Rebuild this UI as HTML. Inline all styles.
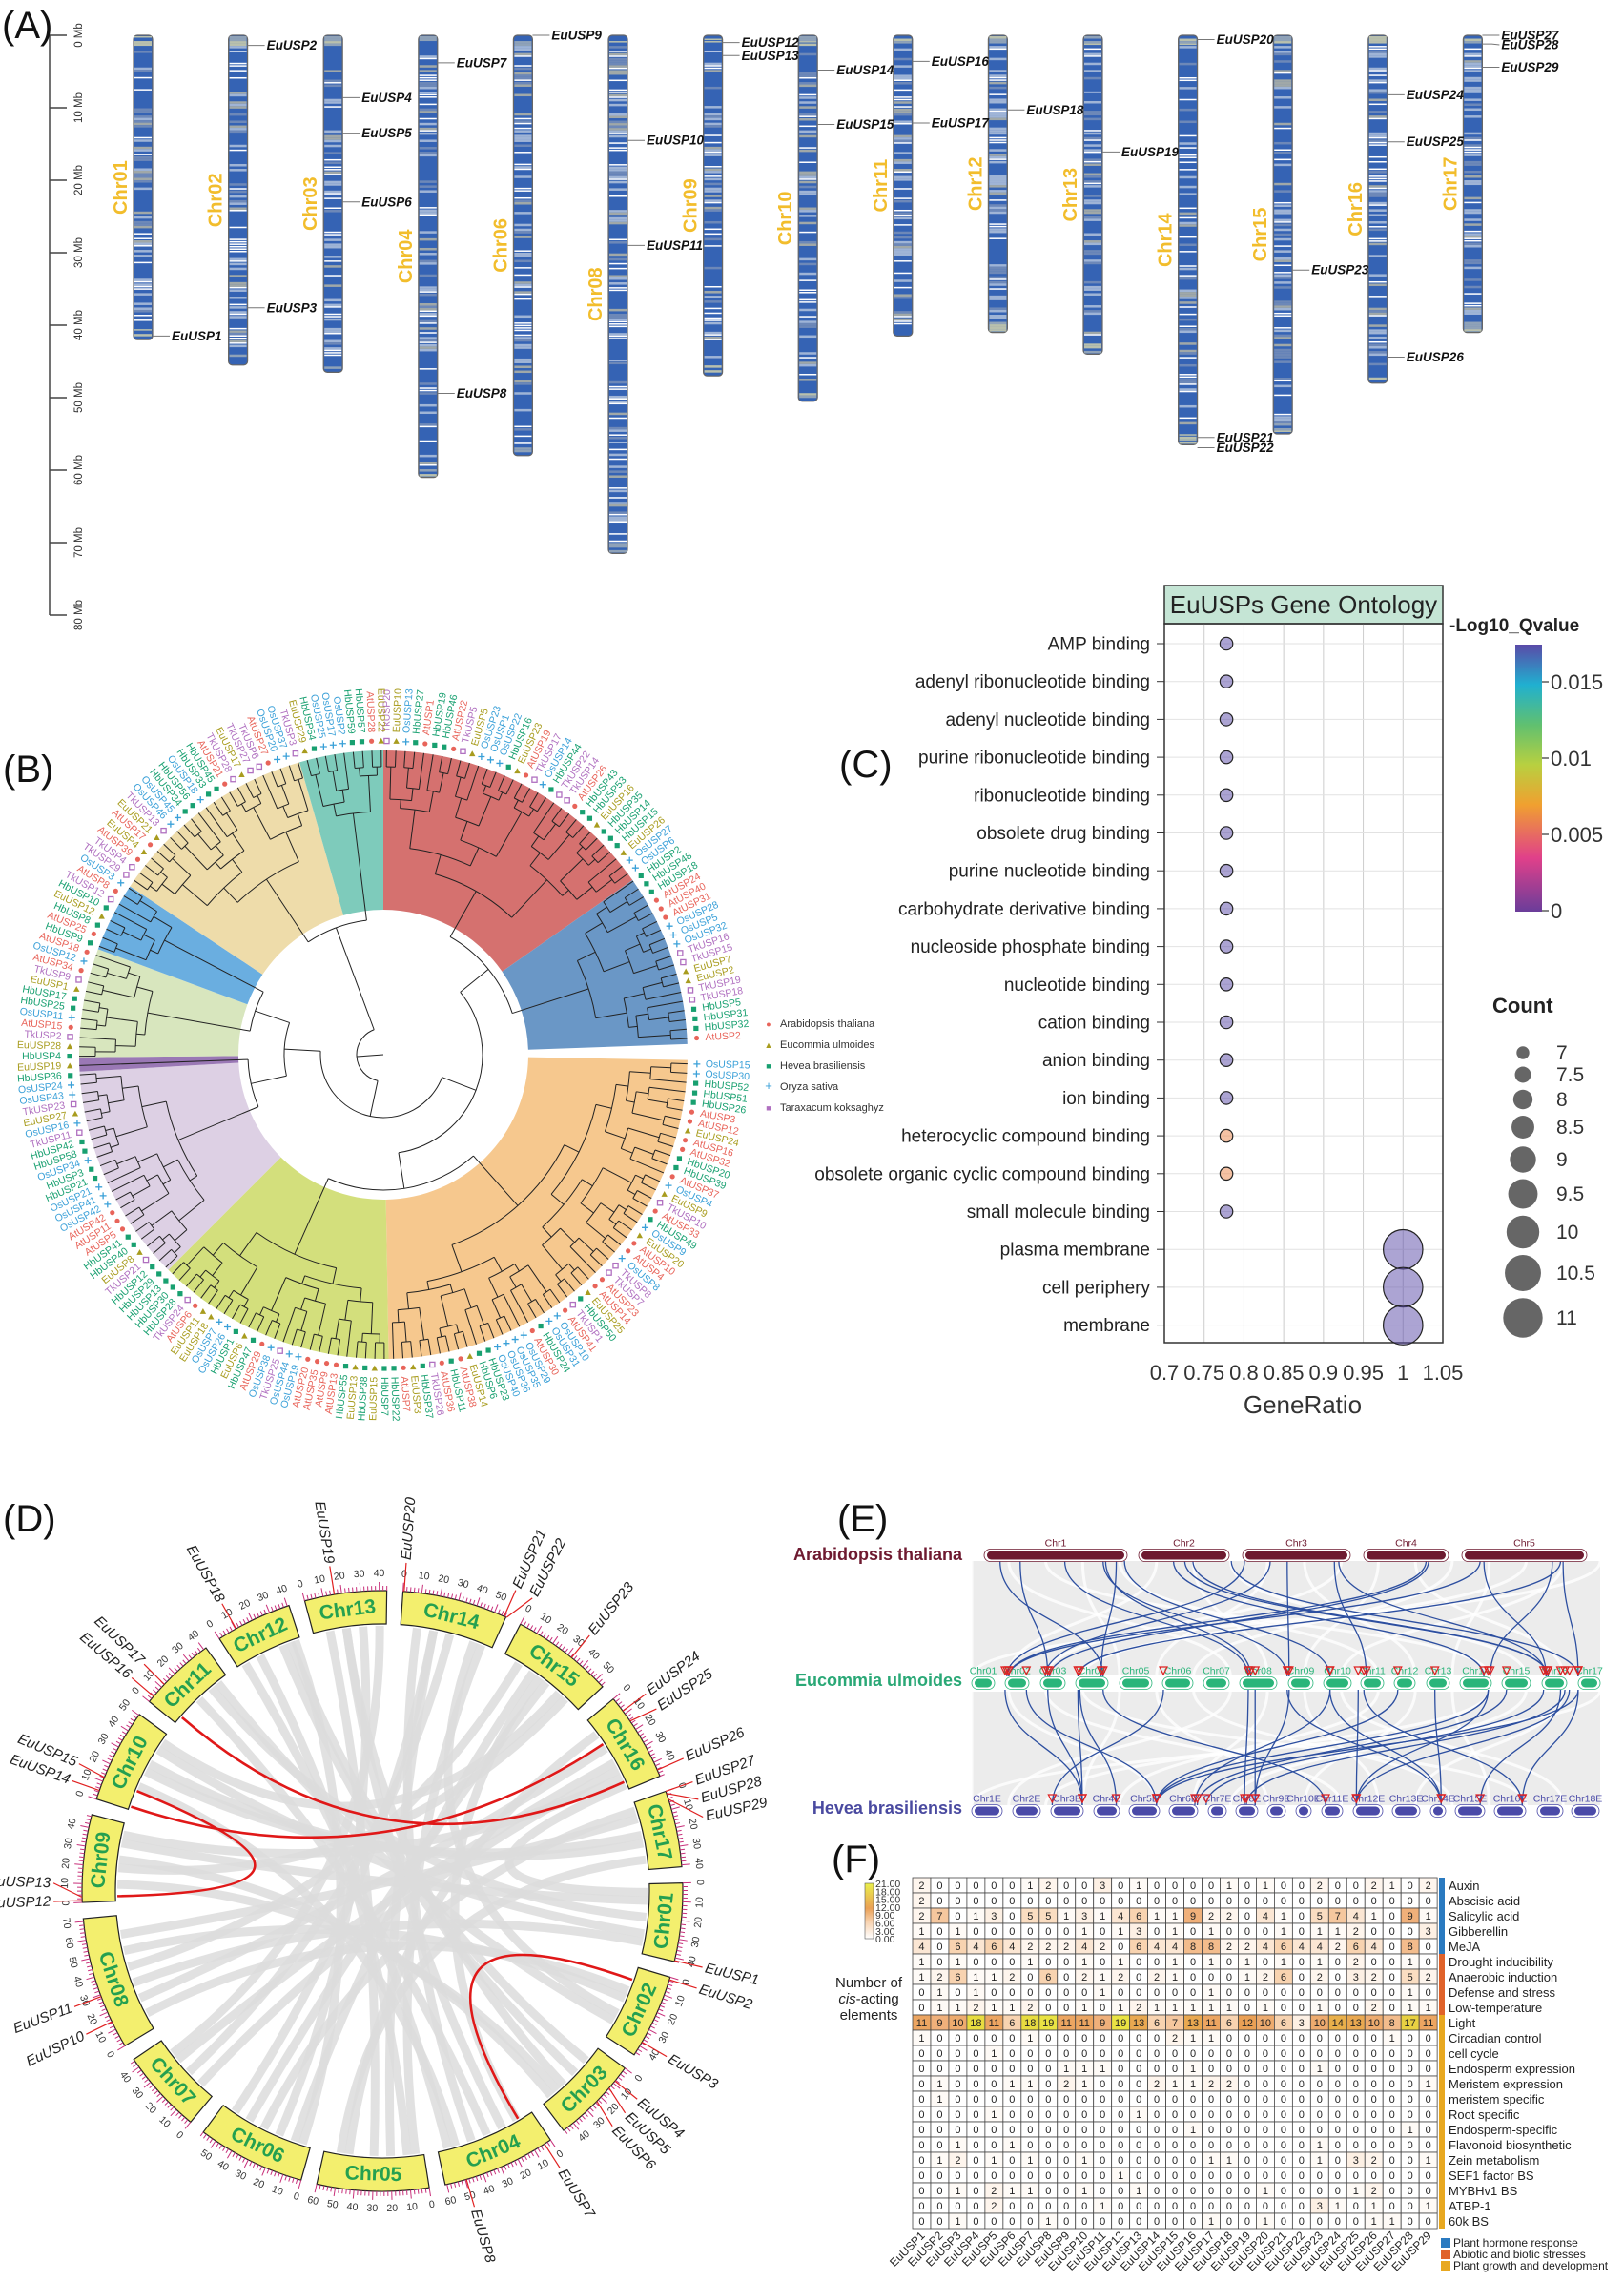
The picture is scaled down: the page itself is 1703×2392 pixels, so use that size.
<!DOCTYPE html>
<html><head><meta charset="utf-8">
<style>
body{margin:0;background:#fff}
svg text{font-family:"Liberation Sans",Arial,sans-serif}
</style></head>
<body>
<svg id="fig" xmlns="http://www.w3.org/2000/svg" width="1703" height="2387" viewBox="0 0 1703 2387">
<defs>
<linearGradient id="qgrad" x1="0" y1="1" x2="0" y2="0">
<stop offset="0" stop-color="#6a3d9a"/><stop offset="0.2" stop-color="#e0408a"/><stop offset="0.4" stop-color="#f0a030"/><stop offset="0.55" stop-color="#b8d040"/><stop offset="0.7" stop-color="#60c070"/><stop offset="0.85" stop-color="#20b0d0"/><stop offset="1" stop-color="#5a4aa8"/>
</linearGradient>
<linearGradient id="hgrad" x1="0" y1="1" x2="0" y2="0">
<stop offset="0" stop-color="#ffffff"/><stop offset="0.3" stop-color="#f8d3b0"/><stop offset="0.55" stop-color="#eaa055"/><stop offset="1" stop-color="#eaf04a"/>
</linearGradient>
</defs>
<g id="pA"></g>
<g id="pB"></g>
<g id="pC"></g>
<g id="pD"></g>
<g id="pE"></g>
<g id="pF"></g>
</svg>
<script>
// ---------------- DATA ----------------
const chrNamesA = ['Chr01','Chr02','Chr03','Chr04','Chr06','Chr08','Chr09','Chr10','Chr11','Chr12','Chr13','Chr14','Chr15','Chr16','Chr17'];
const chrLenA = [42,45.5,46.5,61,58,71.5,47,50.5,41.5,41,44,56.5,55,48,41];
const axisTicksA = [0,10,20,30,40,50,60,70,80];
const geneNames = ['EuUSP1','EuUSP2','EuUSP3','EuUSP4','EuUSP5','EuUSP6','EuUSP7','EuUSP8','EuUSP9','EuUSP10','EuUSP11','EuUSP12','EuUSP13','EuUSP14','EuUSP15','EuUSP16','EuUSP17','EuUSP18','EuUSP19','EuUSP20','EuUSP21','EuUSP22','EuUSP23','EuUSP24','EuUSP25','EuUSP26','EuUSP27','EuUSP28','EuUSP29'];
const geneChr = ['Chr01','Chr02','Chr02','Chr03','Chr03','Chr03','Chr04','Chr04','Chr06','Chr08','Chr08','Chr09','Chr09','Chr10','Chr10','Chr11','Chr11','Chr12','Chr13','Chr14','Chr14','Chr14','Chr15','Chr16','Chr16','Chr16','Chr17','Chr17','Chr17'];
const genePos = [41.5,1.4,37.6,8.6,13.5,23,3.8,49.4,0,14.5,29,1,2.8,4.8,12.3,3.6,12.1,10.3,16.1,0.6,55.5,56.9,32.4,8.2,14.7,44.4,0,1.2,4.4];

const goTerms = ['AMP binding','adenyl ribonucleotide binding','adenyl nucleotide binding','purine ribonucleotide binding','ribonucleotide binding','obsolete drug binding','purine nucleotide binding','carbohydrate derivative binding','nucleoside phosphate binding','nucleotide binding','cation binding','anion binding','ion binding','heterocyclic compound binding','obsolete organic cyclic compound binding','small molecule binding','plasma membrane','cell periphery','membrane'];
const goRatio = [0.778,0.778,0.778,0.778,0.778,0.778,0.778,0.778,0.778,0.778,0.778,0.778,0.778,0.778,0.778,0.778,1,1,1];
const goCount = [7,7,7,7,7,7,7,7,7,7,7,7,7,7,7,7,11,11,11];
const goQ = [0.0175,0.0175,0.0175,0.0175,0.0175,0.0175,0.0175,0.0175,0.0175,0.0175,0.0175,0.0175,0.0175,0.006,0.006,0.0175,0.0175,0.0175,0.0175];
const goXTicks = [0.7,0.75,0.8,0.85,0.9,0.95,1,1.05];
const goXTickLabels = ['0.7','0.75','0.8','0.85','0.9','0.95','1','1.05'];
const qTicks = [0,0.005,0.01,0.015];
const qTickLabels = ['0','0.005','0.01','0.015'];
const countLegend = [7,7.5,8,8.5,9,9.5,10,10.5,11];

const treeLabels = ('TkUSP20 EuUSP10 OsUSP13 HbUSP27 AtUSP1 HbUSP19 HbUSP46 AtUSP22 TkUSP5 EuUSP5 OsUSP23 OsUSP1 OsUSP22 HbUSP16 EuUSP23 AtUSP19 TkUSP17 OsUSP14 HbUSP44 TkUSP22 TkUSP14 AtUSP26 HbUSP43 HbUSP53 EuUSP16 HbUSP35 HbUSP14 HbUSP15 EuUSP26 OsUSP27 OsUSP6 HbUSP2 HbUSP48 HbUSP18 AtUSP24 AtUSP40 AtUSP31 OsUSP28 OsUSP5 OsUSP32 TkUSP16 TkUSP15 EuUSP7 EuUSP2 TkUSP19 TkUSP18 HbUSP5 HbUSP31 HbUSP32 AtUSP2 '+
'OsUSP15 OsUSP30 HbUSP52 HbUSP51 HbUSP26 AtUSP3 AtUSP12 EuUSP24 AtUSP16 AtUSP32 HbUSP20 HbUSP39 AtUSP37 OsUSP4 EuUSP9 TkUSP10 AtUSP33 HbUSP49 OsUSP9 EuUSP20 AtUSP10 AtUSP4 OsUSP8 TkUSP8 TkUSP7 AtUSP23 AtUSP14 EuUSP25 HbUSP50 TkUSP1 AtUSP41 OsUSP10 OsUSP31 HbUSP24 AtUSP30 OsUSP29 OsUSP35 OsUSP36 OsUSP40 HbUSP23 HbUSP6 EuUSP14 AtUSP38 HbUSP11 AtUSP36 TkUSP26 HbUSP37 EuUSP3 AtUSP7 '+
'HbUSP22 HbUSP7 EuUSP15 HbUSP38 EuUSP13 HbUSP55 AtUSP13 AtUSP9 AtUSP35 AtUSP20 OsUSP19 OsUSP44 TkUSP25 OsUSP38 AtUSP29 HbUSP47 EuUSP6 HbUSP1 OsUSP26 OsUSP7 EuUSP18 EuUSP11 AtUSP6 TkUSP24 HbUSP28 HbUSP30 HbUSP13 HbUSP29 HbUSP12 TkUSP21 EuUSP8 '+
'HbUSP40 HbUSP41 AtUSP5 AtUSP11 AtUSP42 OsUSP42 OsUSP41 OsUSP21 HbUSP21 HbUSP3 OsUSP34 HbUSP58 HbUSP42 TkUSP11 OsUSP16 EuUSP27 TkUSP23 OsUSP43 OsUSP24 HbUSP36 EuUSP19 HbUSP4 EuUSP28 TkUSP2 AtUSP15 OsUSP11 HbUSP25 HbUSP17 EuUSP1 TkUSP9 AtUSP34 OsUSP12 AtUSP18 HbUSP9 AtUSP25 HbUSP8 EuUSP12 HbUSP10 TkUSP12 AtUSP8 OsUSP3 TkUSP29 TkUSP4 AtUSP39 EuUSP4 AtUSP17 EuUSP21 TkUSP13 OsUSP46 OsUSP45 HbUSP34 HbUSP56 OsUSP18 HbUSP33 HbUSP45 AtUSP21 TkUSP28 EuUSP17 TkUSP27 TkUSP6 AtUSP27 OsUSP20 OsUSP37 TkUSP3 EuUSP29 HbUSP54 OsUSP25 OsUSP17 OsUSP2 HbUSP59 HbUSP57 AtUSP28 EuUSP22').split(' ');
const cladeStart = [0,55,91,179,225,266.8,269.5,290.3,303.6,344];
const cladeEnd = [55,88,179,225,266.8,269.5,290.3,303.6,344,360];
const cladeColor = ['#d5716f','#6a97c6','#f6c88e','#d3df7c','#ddd0e4','#9a78b5','#d8e6be','#6aaee0','#eedcaa','#7ecbbb'];
const speciesNames = ['Arabidopsis thaliana','Eucommia ulmoides','Hevea brasiliensis','Oryza sativa','Taraxacum koksaghyz'];
const speciesPrefix = ['At','Eu','Hb','Os','Tk'];
const speciesColor = ['#e8645a','#a89c1e','#18a070','#3aa0d8','#b070c0'];

const chrNamesD = ['Chr01','Chr02','Chr03','Chr04','Chr05','Chr06','Chr07','Chr08','Chr09','Chr10','Chr11','Chr12','Chr13','Chr14','Chr15','Chr16','Chr17'];
const chrLenD = [42,45.5,46.5,61,60,58,45,71.5,47,50.5,41.5,41,44,56.5,55,48,41];
const chrOrderD = ['Chr13','Chr14','Chr15','Chr16','Chr17','Chr01','Chr02','Chr03','Chr04','Chr05','Chr06','Chr07','Chr08','Chr09','Chr10','Chr11','Chr12'];
const dupLinksFrom = [['Chr11',5],['Chr10',2],['Chr10',12],['Chr02',8]];
const dupLinksTo = [['Chr16',43],['Chr16',17],['Chr09',3],['Chr04',9]];
const synLinks = [['Chr13',10,'Chr05',30],['Chr13',30,'Chr06',20],['Chr14',10,'Chr04',40],['Chr14',30,'Chr07',20],['Chr14',45,'Chr02',30],['Chr12',15,'Chr05',10],['Chr12',30,'Chr03',20],['Chr11',20,'Chr04',30],['Chr11',30,'Chr01',20],['Chr15',10,'Chr08',40],['Chr15',30,'Chr06',40],['Chr15',45,'Chr09',20],['Chr16',20,'Chr08',20],['Chr16',35,'Chr07',10],['Chr17',10,'Chr08',60],['Chr17',25,'Chr10',30],['Chr17',35,'Chr05',50],['Chr01',10,'Chr09',35],['Chr01',30,'Chr10',40],['Chr02',15,'Chr08',10],['Chr02',35,'Chr11',35],['Chr03',10,'Chr12',35],['Chr03',35,'Chr09',10],['Chr04',20,'Chr13',20],['Chr04',50,'Chr10',15],['Chr05',20,'Chr14',20],['Chr05',45,'Chr16',10],['Chr06',10,'Chr15',20],['Chr06',30,'Chr17',5],['Chr07',30,'Chr16',30],['Chr08',30,'Chr01',35],['Chr08',50,'Chr02',20],['Chr09',25,'Chr03',40],['Chr10',45,'Chr15',40],['Chr12',5,'Chr04',55],['Chr13',40,'Chr07',35],['Chr14',20,'Chr06',50],['Chr16',45,'Chr01',5],['Chr10',25,'Chr17',20],['Chr09',40,'Chr16',40],['Chr13',20,'Chr03',30],['Chr14',50,'Chr05',5],['Chr12',38,'Chr06',5],['Chr15',25,'Chr04',10]];
const circosGeneSkip = ['EuUSP9'];

const athChrs = ['Chr1','Chr2','Chr3','Chr4','Chr5'];
const euChrsE = ['Chr01','Chr02','Chr03','Chr04','Chr05','Chr06','Chr07','Chr08','Chr09','Chr10','Chr11','Chr12','Chr13','Chr14','Chr15','Chr16','Chr17'];
const hbChrsE = ['Chr1E','Chr2E','Chr3E','Chr4E','Chr5E','Chr6E','Chr7E','Chr8E','Chr9E','Chr10E','Chr11E','Chr12E','Chr13E','Chr14E','Chr15E','Chr16E','Chr17E','Chr18E'];
const athToEuA = [.045,.077,.148,.209,.213,.230,.321,.339,.413,.434,.475,.502,.577,.584,.723,.727,.809,.815,.924,.937,.941,.352,.243];
const athToEuE = [.209,.121,.440,.502,.444,.206,.815,.917,.965,.056,.117,.505,.628,.914,.059,.124,.059,.914,.825,.169,.965,.917,.570];
const euToHbE = [.053,.087,.121,.169,.172,.209,.305,.440,.451,.502,.505,.570,.570,.615,.624,.678,.737,.822,.822,.851,.937,.944,.951,.965,.910,.965];
const euToHbH = [.176,.294,.176,.176,.230,.563,.128,.434,.451,.747,.451,.355,.747,.612,.876,.294,.747,.294,.612,.359,.809,.437,.612,.294,.373,.876];

const cisRows = ['Auxin','Abscisic acid','Salicylic acid','Gibberellin','MeJA','Drought inducibility','Anaerobic induction','Defense and stress','Low-temperature','Light','Circadian control','cell cycle','Endosperm expression','Meristem expression','meristem specific','Root specific','Endosperm-specific','Flavonoid biosynthetic','Zein metabolism','SEF1 factor BS','MYBHv1 BS','ATBP-1','60k BS'];
const cisGroup = [0,0,0,0,0,1,1,1,1,2,2,2,2,2,2,2,2,2,2,2,2,2,2];
const cisGroupNames = ['Plant hormone response','Abiotic and biotic stresses','Plant growth and development'];
const cisGroupColors = ['#2a7ac0','#e0622a','#e8a820'];
const cisValues = [
[2,0,0,0,0,0,1,2,0,0,3,0,1,0,0,0,0,1,0,1,0,0,2,0,0,2,1,0,2],
[2,0,0,0,0,0,0,0,0,0,0,0,0,0,0,0,0,0,0,0,0,0,0,0,0,0,0,0,0],
[2,7,0,1,3,0,5,5,1,3,1,4,6,1,1,9,2,2,0,4,1,0,5,7,4,1,0,9,1],
[1,0,1,0,0,0,0,0,0,1,0,1,3,0,1,0,1,0,0,0,1,0,1,1,2,0,0,0,3],
[4,0,6,4,6,4,2,2,2,4,2,0,6,4,4,8,8,2,2,4,6,4,4,2,6,4,0,8,0],
[1,0,1,0,0,0,1,0,0,1,0,1,0,0,1,0,1,0,1,0,1,0,1,0,2,0,0,1,0],
[1,2,6,1,1,2,0,6,0,2,1,2,0,2,1,0,0,0,1,2,6,0,2,0,3,2,0,5,2],
[0,1,0,1,0,0,0,0,0,0,1,0,0,0,0,0,1,0,0,0,0,0,0,0,0,0,0,1,0],
[0,1,1,2,1,1,2,0,0,1,0,1,2,1,1,1,1,1,0,1,0,0,1,0,0,2,0,1,1],
[11,9,10,18,11,6,18,19,11,11,9,19,13,6,7,13,11,6,12,10,6,3,10,14,13,10,8,17,11],
[1,0,0,0,0,0,1,0,0,0,0,0,0,0,2,1,1,0,0,0,0,0,0,0,0,0,1,0,0],
[0,0,0,0,1,0,0,0,0,0,0,0,0,0,0,0,0,0,0,0,0,0,0,0,0,0,0,0,0],
[0,0,0,0,0,0,0,0,1,1,1,0,0,0,0,1,0,0,0,0,0,0,1,0,0,0,0,0,0],
[0,1,0,0,0,1,1,0,2,1,0,0,0,2,1,1,2,2,0,0,0,0,0,0,0,0,0,0,1],
[0,1,0,0,0,0,0,0,0,0,0,0,0,0,0,0,0,0,0,0,0,0,0,0,0,0,0,0,0],
[0,0,0,0,1,0,0,0,0,0,0,0,1,0,0,0,0,0,0,0,0,0,0,0,0,0,0,0,0],
[0,0,0,0,0,0,0,0,0,0,0,0,0,0,0,1,0,0,0,0,0,0,0,0,0,0,0,1,0],
[0,0,1,0,0,1,0,0,0,0,0,0,0,0,0,0,0,0,0,0,0,0,1,0,0,0,0,0,0],
[0,1,2,0,1,0,1,0,0,1,0,0,0,0,0,0,1,1,0,0,0,0,1,0,3,2,0,0,1],
[0,0,0,0,0,0,0,0,0,0,0,1,0,0,0,0,0,0,0,0,0,0,0,0,0,0,0,0,0],
[0,0,1,0,2,1,1,0,0,1,0,0,1,0,0,0,0,0,0,1,0,0,0,0,1,2,0,0,0],
[0,0,0,0,2,0,0,0,0,0,1,0,0,0,0,0,0,0,0,0,0,0,3,1,0,1,0,0,1],
[0,0,1,0,0,0,0,1,0,0,0,0,0,0,0,0,1,0,0,1,0,0,0,0,0,1,1,0,0]];
const cisLegendTicks = ['21.00','18.00','15.00','12.00','9.00','6.00','3.00','0.00'];

// ---------------- HELPERS ----------------
const NS='http://www.w3.org/2000/svg';
function mk(tag, attrs, parent){const e=document.createElementNS(NS,tag);for(const k in attrs)e.setAttribute(k,attrs[k]);parent.appendChild(e);return e;}
function tx(str, attrs, parent){const e=mk('text',attrs,parent);e.textContent=str;return e;}
let seed=7; function rnd(){seed=(seed*16807)%2147483647;return (seed-1)/2147483646;}
const svg=document.getElementById('fig');
let e;

const letters=[['(A)',2,40],['(B)',3,820],['(C)',880,815],['(D)',3,1606],['(E)',878,1606],['(F)',872,1963]];
letters.forEach(l=>{
  e=tx(l[0],{x:l[1],y:l[2],'font-size':40,fill:'#111'},svg);
  
  
});

// ---------------- PANEL A ----------------
(function(){
const g=document.getElementById('pA');
const yA=mb=>37+mb*7.6;
const xA=i=>150+i*99.6;
e=mk('line',{x1:52,y1:yA(0),x2:52,y2:yA(80),stroke:'#444','stroke-width':1.5},g);


axisTicksA.forEach(t=>{
  e=mk('line',{x1:52,y1:yA(t),x2:70,y2:yA(t),stroke:'#444','stroke-width':1.5},g);
  
  
  e=tx(t+' Mb',{transform:`translate(86,${yA(t)}) rotate(-90)`,'text-anchor':'middle','font-size':11.5,fill:'#333'},g);
  
  
});
chrNamesA.forEach((c,i)=>{
  const cx=xA(i), len=chrLenA[i], y0=yA(0), h=len*7.6;
  const cg=mk('g',{},g);
  
  
  mk('rect',{x:cx-10,y:y0,width:20,height:h,rx:4,fill:'#3563b4',stroke:'#666','stroke-width':1.2},cg);
  const nb=Math.floor(len*3);
  for(let k=0;k<nb;k++){
    const r=rnd(); let col=null;
    const edge = (k<4||k>nb-5);
    if(edge && r<0.7) col = r<0.35?'#b9c0ad':'#8fa2b8';
    else if(r<0.14) col='#ffffff'; else if(r<0.28) col='#9fb4d6'; else if(r<0.38) col='#6d88b8'; else if(r<0.44) col='#a0a8a8';
    if(col) mk('rect',{x:cx-9,y:y0+1+k*(h-2)/nb,width:18,height:(h-2)/nb*(r<0.14?0.6:1),fill:col},cg);
  }
  e=tx(c,{transform:`translate(${cx-17},${y0+h/2}) rotate(-90)`,'text-anchor':'middle','font-size':20,'font-weight':'bold',fill:'#f2bd2c'},g);
  
  
});
let prev={};
geneNames.forEach((n,j)=>{
  const i=chrNamesA.indexOf(geneChr[j]); const cx=xA(i); const y=yA(genePos[j]);
  let ly=y; if(prev[i]!==undefined && ly-prev[i]<10) ly=prev[i]+10; prev[i]=ly;
  e=mk('path',{d:`M${cx+10},${y} L${cx+20},${y} L${cx+28},${ly}`,stroke:'#777',fill:'none','stroke-width':1},g);
  
  
  e=tx(n,{x:cx+30,y:ly+4.5,'font-size':13.5,'font-weight':'bold','font-style':'italic',fill:'#111'},g);
  
  
});
})();

// ---------------- PANEL B ----------------
(function(){
const g=document.getElementById('pB');
const cx=402, cy=1106, rIn=152, rOut=319;
const P=(a,r)=>[cx+r*Math.sin(a*Math.PI/180), cy-r*Math.cos(a*Math.PI/180)];
cladeStart.forEach((s,i)=>{
  const t=cladeEnd[i]; const lg=(t-s)>180?1:0;
  const a=P(s,rIn),b=P(s,rOut),c=P(t,rOut),d=P(t,rIn);
  e=mk('path',{d:`M${a} L${b} A${rOut},${rOut} 0 ${lg} 1 ${c} L${d} A${rIn},${rIn} 0 ${lg} 0 ${a}Z`,fill:cladeColor[i]},g);
  
  
});
const N=treeLabels.length;
const ang=treeLabels.map((_,i)=>{let a=0.6+i*(356/(N-1)); if(a>88) a+=3; return Math.min(a,359.6);});
const tg=mk('g',{stroke:'#222',fill:'none','stroke-width':1},g);


function arc(a1,a2,r){const p=P(a1,r),q=P(a2,r);return `M${p} A${r},${r} 0 ${(a2-a1)>180?1:0} 1 ${q}`;}
function build(ids,depth){
  if(ids.length===1) return {a:ang[ids[0]], r:rOut};
  const k=Math.max(1,Math.min(ids.length-1,Math.round(ids.length*(depth%2?0.42:0.6))));
  const L=build(ids.slice(0,k),depth+1), R=build(ids.slice(k),depth+1);
  const r=Math.max(rIn+12, Math.min(L.r,R.r)-(9+(ids.length%4)*4));
  mk('path',{d:arc(L.a,R.a,r)},tg);
  [L,R].forEach(ch=>{const p=P(ch.a,r),q=P(ch.a,ch.r); mk('path',{d:`M${p} L${q}`},tg);});
  return {a:(L.a+R.a)/2, r:r};
}
const roots=[];
cladeStart.forEach((s,i)=>{
  const ids=[]; ang.forEach((a,j)=>{if(a>=s&&a<cladeEnd[i]) ids.push(j);});
  if(ids.length) roots.push(build(ids,0));
});
let nodes=roots.map(n=>({a:n.a,r:n.r})); let rr=rIn-10;
while(nodes.length>1){
  const nx=[];
  for(let i=0;i<nodes.length;i+=2){
    if(i+1>=nodes.length){nx.push(nodes[i]);continue;}
    const A=nodes[i],B=nodes[i+1];
    mk('path',{d:arc(A.a,B.a,rr)},tg);
    [A,B].forEach(ch=>{mk('path',{d:`M${P(ch.a,rr)} L${P(ch.a,ch.r)}`},tg);});
    nx.push({a:(A.a+B.a)/2,r:rr});
  }
  nodes=nx; rr=Math.max(8,rr-38);
}
mk('path',{d:`M${P(nodes[0].a,nodes[0].r)} L${cx},${cy}`},tg);
treeLabels.forEach((n,i)=>{
  const sp=speciesPrefix.indexOf(n.slice(0,2)); const col=speciesColor[sp]; const a=ang[i];
  const [mx,my]=P(a,329);
  let m;
  if(sp===0) m=mk('circle',{cx:mx,cy:my,r:2.6,fill:col},g);
  else if(sp===1) m=mk('path',{d:`M${mx},${my-3.2} L${mx+3.2},${my+2.6} L${mx-3.2},${my+2.6}Z`,fill:col},g);
  else if(sp===2) m=mk('rect',{x:mx-2.6,y:my-2.6,width:5.2,height:5.2,fill:col},g);
  else if(sp===3) m=mk('path',{d:`M${mx-3.5},${my} L${mx+3.5},${my} M${mx},${my-3.5} L${mx},${my+3.5}`,stroke:col,'stroke-width':1.3},g);
  else m=mk('rect',{x:mx-2.6,y:my-2.6,width:5.2,height:5.2,fill:'#fff',stroke:col,'stroke-width':1.3},g);
  
  
  const [lx,ly]=P(a,338); const left=a>180;
  e=tx(n,{x:lx,y:ly,transform:`rotate(${left?a+90:a-90},${lx},${ly})`,'text-anchor':left?'end':'start','dominant-baseline':'central','font-size':10.5,fill:col},g);
  
  
});
speciesNames.forEach((s,i)=>{
  const y=1073+i*22;
  e=tx(i===3?'+':(i===0?'●':(i===1?'▲':'■')),{x:806,y:y+4,'font-size':i===3?13:9,'text-anchor':'middle',fill:speciesColor[i]},g);
  
  
  e=tx(s,{x:818,y:y+4,'font-size':11,fill:'#333'},g);
  
  
});
})();

// ---------------- PANEL C ----------------
(function(){
const g=document.getElementById('pC');
const X0=1221,X1=1513,Y0=654,Y1=1408;
const xs=v=>X0+(v-0.7)/0.35*(X1-X0);
const ys=i=>675+i*39.7;
const rs=c=>6.7+(c-7)*3.5;
function qcol(q){const st=[[0,[106,61,154]],[0.0035,[224,64,138]],[0.007,[240,160,48]],[0.0095,[184,208,64]],[0.012,[96,192,112]],[0.0148,[32,176,208]],[0.0175,[90,74,168]]];
  for(let i=1;i<st.length;i++){if(q<=st[i][0]){const t=(q-st[i-1][0])/(st[i][0]-st[i-1][0]);const c=st[i-1][1].map((v,k)=>Math.round(v+(st[i][1][k]-v)*t));return `rgb(${c})`;}}return 'rgb(90,74,168)';}
e=mk('rect',{x:X0,y:614,width:X1-X0,height:40,fill:'#c5e5d5',stroke:'#333','stroke-width':1.5},g);


e=tx('EuUSPs Gene Ontology',{x:(X0+X1)/2,y:643,'text-anchor':'middle','font-size':26,fill:'#222'},g);


goXTicks.forEach((t,i)=>{
  e=mk('line',{x1:xs(t),y1:Y0,x2:xs(t),y2:Y1,stroke:'#ccc','stroke-width':1},g);
  
  
  e=tx(goXTickLabels[i],{x:xs(t),y:1447,'text-anchor':'middle','font-size':22,fill:'#333'},g);
  
  
});
goTerms.forEach((t,i)=>{
  e=mk('line',{x1:X0,y1:ys(i),x2:X1,y2:ys(i),stroke:'#e2e2e2','stroke-width':1},g);
  
  
  e=mk('line',{x1:X0-8,y1:ys(i),x2:X0,y2:ys(i),stroke:'#333','stroke-width':1},g);
  
  
  e=tx(t,{x:X0-15,y:ys(i)+6.5,'text-anchor':'end','font-size':19,fill:'#222'},g);
  
  
});
e=mk('rect',{x:X0,y:Y0,width:X1-X0,height:Y1-Y0,fill:'none',stroke:'#333','stroke-width':1.5},g);


goTerms.forEach((t,i)=>{
  e=mk('circle',{cx:xs(goRatio[i]),cy:ys(i),r:rs(goCount[i]),fill:qcol(goQ[i]),'fill-opacity':0.5,stroke:'#222','stroke-width':1.2},g);
  
  
});
e=tx('GeneRatio',{x:1366,y:1482,'text-anchor':'middle','font-size':26,fill:'#333'},g);


e=tx('-Log10_Qvalue',{x:1520,y:662,'font-size':19,'font-weight':'bold',fill:'#222'},g);


e=mk('rect',{x:1589,y:676,width:28,height:280,fill:'url(#qgrad)'},g);


const qy=q=>955-(q/0.0175)*280;
qTicks.forEach((q,i)=>{
  e=mk('line',{x1:1617,y1:qy(q),x2:1624,y2:qy(q),stroke:'#333','stroke-width':1.2},g);
  
  
  e=tx(qTickLabels[i],{x:1626,y:qy(q)+8,'font-size':22,fill:'#333'},g);
  
  
});
e=tx('Count',{x:1565,y:1062,'font-size':22,'font-weight':'bold',fill:'#222'},g);


const ly=[1104,1127,1153,1182,1216,1252,1292,1335,1382];
countLegend.forEach((c,i)=>{
  e=mk('circle',{cx:1597,cy:ly[i],r:rs(c),fill:'#666'},g);
  
  
  e=tx(String(c),{x:1632,y:ly[i]+7,'font-size':21,fill:'#333'},g);
  
  
});
})();

// ---------------- PANEL D ----------------
(function(){
const g=document.getElementById('pD');
const cx=401, cy=1983, rIn=280, rOut=315, k=0.36, gap=3.09;
const P=(a,r)=>[cx+r*Math.sin(a*Math.PI/180), cy-r*Math.cos(a*Math.PI/180)];
const start={}; let a=-15;
chrOrderD.forEach(c=>{start[c]=a; a+=chrLenD[chrNamesD.indexOf(c)]*k+gap;});
const A=(c,mb)=>start[c]+mb*k;
const lg=mk('g',{fill:'none'},g);


synLinks.forEach(l=>{
  const p=P(A(l[0],l[1]),rIn-2), q=P(A(l[2],l[3]),rIn-2);
  e=mk('path',{d:`M${p} Q${cx},${cy} ${q}`,stroke:'#dcdcdc','stroke-width':9,'stroke-opacity':0.85},lg);
  
  
});
dupLinksFrom.forEach((f,i)=>{
  const t=dupLinksTo[i];
  const p=P(A(f[0],f[1]),rIn-2), q=P(A(t[0],t[1]),rIn-2);
  e=mk('path',{d:`M${p} Q${cx},${cy} ${q}`,stroke:'#e01818','stroke-width':2.6,fill:'none'},g);
  
  
});
chrOrderD.forEach(c=>{
  const len=chrLenD[chrNamesD.indexOf(c)], s=start[c], t=s+len*k;
  const p1=P(s,rIn),p2=P(s,rOut),p3=P(t,rOut),p4=P(t,rIn);
  e=mk('path',{d:`M${p1} L${p2} A${rOut},${rOut} 0 0 1 ${p3} L${p4} A${rIn},${rIn} 0 0 0 ${p1}Z`,fill:'#f3ef6e',stroke:'#222','stroke-width':1.2},g);
  
  
  const m=(s+t)/2, mm=((m%360)+360)%360; const [lx,ly]=P(m,297);
  const rot=(mm>90&&mm<270)?m+180:m;
  e=tx(c,{x:lx,y:ly,transform:`rotate(${rot},${lx},${ly})`,'text-anchor':'middle','dominant-baseline':'central','font-size':21,'font-weight':'bold',fill:'#25a050'},g);
  
  
  let d='';
  for(let mb=0;mb<=len;mb+=2){const q1=P(A(c,mb),rOut),q2=P(A(c,mb),mb%10===0?rOut+9:rOut+5);d+=`M${q1} L${q2} `;}
  e=mk('path',{d:d,stroke:'#c8307a','stroke-width':1},g);
  
  
  for(let mb=0;mb<=len;mb+=10){
    const aa=A(c,mb), am=((aa%360)+360)%360; const [tx0,ty0]=P(aa,333);
    const r2=(am>90&&am<270)?aa+180:aa;
    e=tx(String(mb),{x:tx0,y:ty0,transform:`rotate(${r2},${tx0},${ty0})`,'text-anchor':'middle','dominant-baseline':'central','font-size':10.5,fill:'#333'},g);
    
    
  }
});
let last=null;
geneNames.forEach((n,j)=>{
  if(circosGeneSkip.indexOf(n)>=0) return;
  const ga=A(geneChr[j],genePos[j]); let la=ga;
  if(last!==null && la-last<3.2 && la>last-10) la=last+3.2; last=la;
  const norm=((la%360)+360)%360;
  const p=P(ga,rOut), q=P(la,rOut+30);
  e=mk('path',{d:`M${p} L${q}`,stroke:'#e02020','stroke-width':1.2},g);
  
  
  const [lx,ly]=P(la,rOut+33); const left=norm>180;
  e=tx(n,{x:lx,y:ly,transform:`rotate(${left?norm+90:norm-90},${lx},${ly})`,'text-anchor':left?'end':'start','dominant-baseline':'central','font-size':15,'font-style':'italic',fill:'#222'},g);
  
  
});
})();

// ---------------- PANEL E ----------------
(function(){
const g=document.getElementById('pE');
const T0=1019,T1=1678; const fx=f=>T0+f*(T1-T0);
const yA=1637,yE1=1758,yE2=1772,yH=1893;
e=mk('rect',{x:1019,y:1637,width:659,height:256,fill:'#ececec'},g);


e=mk('rect',{x:1000,y:1757,width:700,height:17,fill:'#fff'},g);


for(let i=0;i<18;i++){
  e=mk('path',{d:`M${fx(i/17)},${yA} C${fx(i/17)},1700 ${fx(((i*7)%17)/17)},1700 ${fx(((i*7)%17)/17)},${yE1}`,stroke:'#fff','stroke-width':3,fill:'none','stroke-opacity':0.8},g);
  
  
  e=mk('path',{d:`M${fx(i/17)},${yE2} C${fx(i/17)},1832 ${fx(((i*5)%17)/17)},1832 ${fx(((i*5)%17)/17)},${yH}`,stroke:'#fff','stroke-width':3,fill:'none','stroke-opacity':0.8},g);
  
  
}
const athSpan=[[1032,1182],[1194,1289],[1303,1416],[1430,1519],[1533,1664]];
const euSpan=[[1019,1043],[1054,1079],[1091,1117],[1128,1162],[1174,1208],[1219,1251],[1262,1289],[1300,1339],[1351,1377],[1388,1417],[1427,1451],[1462,1484],[1496,1520],[1531,1564],[1575,1605],[1617,1643],[1655,1678]];
const hbSpan=[[1019,1051],[1062,1091],[1102,1136],[1147,1174],[1184,1216],[1226,1256],[1267,1286],[1296,1319],[1329,1348],[1359,1375],[1386,1408],[1419,1450],[1460,1489],[1500,1516],[1526,1557],[1567,1600],[1612,1639],[1648,1677]];
athToEuA.forEach((f,i)=>{
  const x1=fx(f),x2=fx(athToEuE[i]);
  e=mk('path',{d:`M${x1},${yA} C${x1},1700 ${x2},1700 ${x2},${yE1}`,stroke:'#2d4fa0','stroke-width':1.3,fill:'none'},g);
  
  
});
euToHbE.forEach((f,i)=>{
  const x1=fx(f),x2=fx(euToHbH[i]);
  e=mk('path',{d:`M${x1},${yE2} C${x1},1832 ${x2},1832 ${x2},${yH}`,stroke:'#2d4fa0','stroke-width':1.3,fill:'none'},g);
  
  
});
function track(spans,names,y,h,col,lcol,name){
  spans.forEach((s,i)=>{
    e=mk('rect',{x:s[0],y:y-h/2-2,width:s[1]-s[0],height:h+4,rx:(h+4)/2,fill:'#fff',stroke:col,'stroke-width':0.8},document.getElementById('pE'));
    
    
    e=mk('rect',{x:s[0]+3,y:y-h/2,width:s[1]-s[0]-6,height:h,rx:h/2,fill:col},document.getElementById('pE'));
    
    
    e=tx(names[i],{x:(s[0]+s[1])/2,y:y-h/2-5,'text-anchor':'middle','font-size':10.5,fill:lcol},document.getElementById('pE'));
    
    
  });
}
track(athSpan,athChrs,1631,9,'#6e1a30','#6e1a30','ath');
track(euSpan,euChrsE,1765,9,'#2ab57a','#2ab57a','eu');
track(hbSpan,hbChrsE,1899,9,'#4a4aa8','#4a4aa8','hb');
athToEuE.concat(euToHbE).forEach(f=>{
  const x=fx(f);
  e=mk('path',{d:`M${x-4},1748 L${x+4},1748 L${x},1756Z`,fill:'none',stroke:'#e02020','stroke-width':1.2},g);
  
  
});
euToHbH.forEach(f=>{
  const x=fx(f);
  e=mk('path',{d:`M${x-4},1882 L${x+4},1882 L${x},1890Z`,fill:'none',stroke:'#e02020','stroke-width':1.2},g);
  
  
});
const sp=[['Arabidopsis thaliana',1636,'#6e1a30'],['Eucommia ulmoides',1768,'#2aa876'],['Hevea brasiliensis',1902,'#4a4aa0']];
sp.forEach(s=>{
  e=tx(s[0],{x:1009,y:s[1],'text-anchor':'end','font-size':18,'font-weight':'bold',fill:s[2]},g);
  
  
});
})();

// ---------------- PANEL F ----------------
(function(){
const g=document.getElementById('pF');
const L=957,T=1969,W=18.97,H=16;
const stops=[[0,[255,255,255]],[3,[253,240,228]],[6,[248,211,176]],[9,[240,176,122]],[12,[234,160,85]],[15,[232,184,69]],[18,[232,220,64]],[21,[234,240,74]]];
function hc(v){for(let i=1;i<stops.length;i++){if(v<=stops[i][0]){const t=(v-stops[i-1][0])/(stops[i][0]-stops[i-1][0]);return 'rgb('+stops[i-1][1].map((c,k)=>Math.round(c+(stops[i][1][k]-c)*t))+')';}}return 'rgb(234,240,74)';}
cisValues.forEach((row,r)=>{
  row.forEach((v,c)=>{
    e=mk('rect',{x:L+c*W,y:T+r*H,width:W,height:H,fill:hc(v),stroke:'#444','stroke-width':0.8},g);
    
    
    e=tx(String(v),{x:L+c*W+W/2,y:T+r*H+H/2+4,'text-anchor':'middle','font-size':11,fill:'#222'},g);
    
    
  });
  e=mk('rect',{x:1509,y:T+r*H,width:6,height:H,fill:cisGroupColors[cisGroup[r]]},g);
  
  
  e=tx(cisRows[r],{x:1519,y:T+r*H+H/2+5,'font-size':13,fill:'#222'},g);
  
  
});
geneNames.forEach((n,c)=>{
  const x=L+c*W+W/2+4, y=2345;
  e=tx(n,{x:x,y:y,transform:`rotate(-45,${x},${y})`,'text-anchor':'end','font-size':12,fill:'#222'},g);
  
  
});
e=mk('rect',{x:907,y:1975,width:9,height:58,fill:'url(#hgrad)',stroke:'#555','stroke-width':0.6},g);


cisLegendTicks.forEach((t,i)=>{
  e=tx(t,{x:918,y:1979+i*8.3,'font-size':10.5,fill:'#333'},g);
  
  
});
[['Number of',2084,'normal'],['cis-acting',2101,'italic-part'],['elements',2118,'normal']].forEach(l=>{
  e=tx('',{x:911,y:l[1],'text-anchor':'middle','font-size':15,fill:'#222'},g);
  if(l[2]==='italic-part'){const s1=document.createElementNS(NS,'tspan');s1.setAttribute('font-style','italic');s1.textContent='cis';e.appendChild(s1);e.appendChild(document.createTextNode('-acting'));}
  else e.textContent=l[0];
  
  
});
cisGroupNames.forEach((n,i)=>{
  e=mk('rect',{x:1511,y:2347+i*12,width:10,height:10,fill:cisGroupColors[i]},g);
  
  
  e=tx(n,{x:1524,y:2356+i*12,'font-size':12,fill:'#222'},g);
  
  
});
})();
</script>
</body></html>
